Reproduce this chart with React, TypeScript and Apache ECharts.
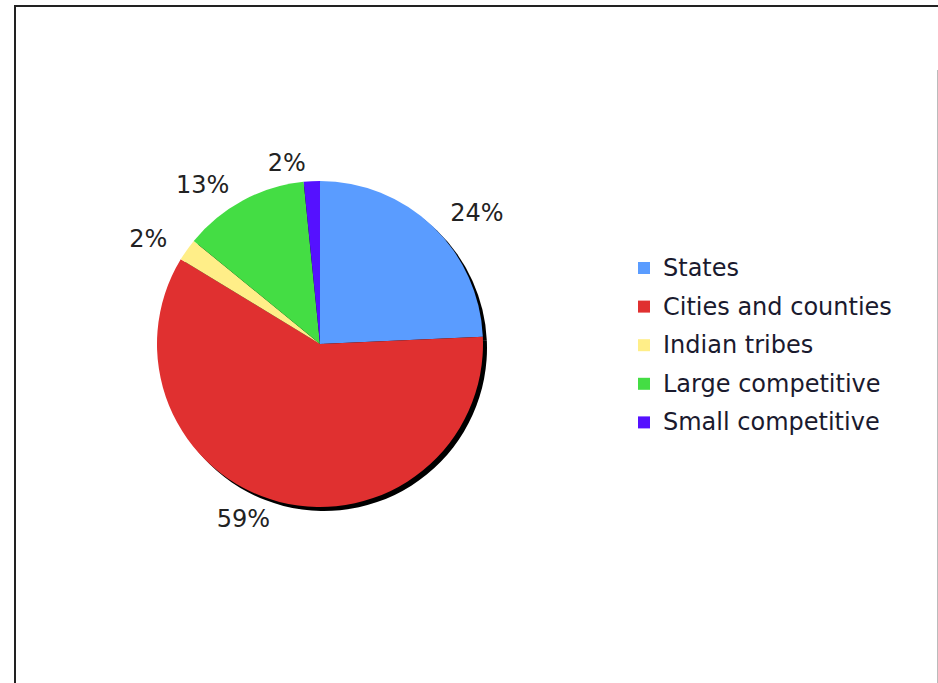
import React, { useEffect, useRef } from "react";
import * as echarts from "echarts";

const categories = ["States", "Cities and counties", "Indian tribes", "Large competitive", "Small competitive"];
const shares = [24.3, 59.4, 2.2, 12.5, 1.6];
const colors = ["#5a9cff", "#e03030", "#ffee88", "#44dd44", "#5511ff"];

export default function App() {
  const ref = useRef<HTMLDivElement>(null);
  useEffect(() => {
    document.body.style.margin = "0";
    const chart = echarts.init(ref.current!, null, { renderer: "svg" });
    const data = categories.map((name, i) => ({ name, value: shares[i], itemStyle: { color: colors[i] } }));
    chart.setOption({
      animation: false,
      backgroundColor: "#ffffff",
      graphic: [
        {
          type: "line",
          shape: { x1: 15, y1: 6, x2: 15, y2: 690 },
          style: { stroke: "#222", lineWidth: 2 },
          silent: true,
        },
        {
          type: "line",
          shape: { x1: 14, y1: 6, x2: 940, y2: 6 },
          style: { stroke: "#222", lineWidth: 2 },
          silent: true,
        },
        {
          type: "line",
          shape: { x1: 937.5, y1: 70, x2: 937.5, y2: 690 },
          style: { stroke: "#bbb", lineWidth: 1 },
          silent: true,
        },
      ],
      legend: {
        orient: "vertical",
        left: 638,
        top: 255,
        padding: 0,
        itemWidth: 12,
        itemHeight: 12,
        itemGap: 12.6,
        icon: "rect",
        data: categories,
        textStyle: {
          fontFamily: "DejaVu Sans",
          fontSize: 24,
          color: "#1a1a2e",
          lineHeight: 26,
          padding: [0, 0, 0, 8],
        },
      },
      series: [
        {
          type: "pie",
          name: "shadow",
          center: [324, 348],
          radius: 163,
          startAngle: 90,
          clockwise: true,
          silent: true,
          label: { show: false },
          labelLine: { show: false },
          itemStyle: { color: "#000", borderWidth: 0 },
          data: categories.map((name, i) => ({ name: name + " ", value: shares[i] })),
          legendHoverLink: false,
          z: 1,
        },
        {
          type: "pie",
          center: [320, 344],
          radius: 163,
          startAngle: 90,
          clockwise: true,
          avoidLabelOverlap: false,
          itemStyle: { borderWidth: 0 },
          label: {
            show: true,
            position: "outside",
            formatter: (p: any) => Math.round(p.percent) + "%",
            fontFamily: "DejaVu Sans",
            fontSize: 24,
            color: "#222",
          },
          labelLine: { show: false, length: 18, length2: 0 },
          data,
          z: 2,
        },
      ],
    });
    return () => chart.dispose();
  }, []);
  return <div ref={ref} style={{ position: "absolute", left: 0, top: 0, width: 938, height: 683 }} />;
}
